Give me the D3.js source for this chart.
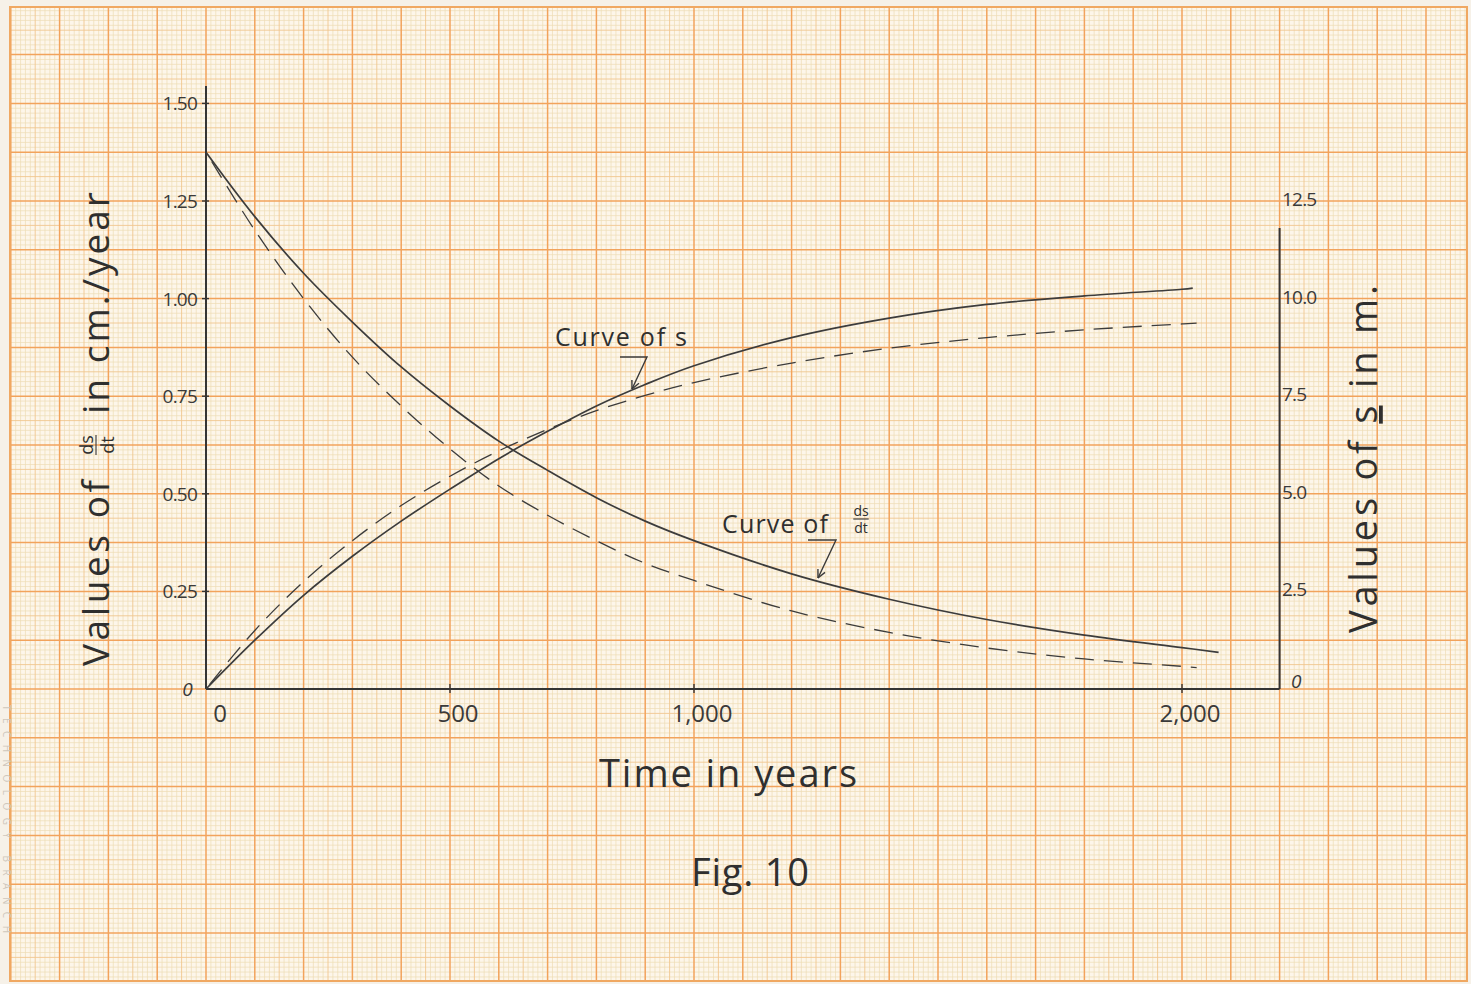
<!DOCTYPE html>
<html><head><meta charset="utf-8">
<script src="https://cdn.jsdelivr.net/npm/d3@7"></script>
<style>
html,body{margin:0;padding:0;background:#f6f1e8;}
svg{display:block;}
text{font-family:"Open Sans","DejaVu Sans",sans-serif;fill:#2f2f2f;}
</style></head>
<body>
<svg id="c" width="1471" height="984"></svg>
<script>
// ---- data ----
const years = [0, 100, 200, 300, 400, 500, 600, 700, 800, 900, 1000, 1200, 1400, 1600, 1800, 2000];
const dsdtSolid  = [1.375, 1.21, 1.065, 0.94, 0.825, 0.725, 0.635, 0.56, 0.49, 0.43, 0.38, 0.295, 0.23, 0.178, 0.138, 0.106];
const dsdtDashed = [1.375, 1.175, 1.00, 0.85, 0.725, 0.615, 0.52, 0.445, 0.38, 0.322, 0.278, 0.20, 0.145, 0.105, 0.077, 0.058];
const sSolid     = [0, 1.25, 2.4, 3.4, 4.3, 5.12, 5.9, 6.6, 7.25, 7.8, 8.28, 9.0, 9.5, 9.85, 10.07, 10.24];
const sDashed    = [0, 1.5, 2.75, 3.8, 4.7, 5.45, 6.1, 6.65, 7.13, 7.52, 7.85, 8.35, 8.73, 9.0, 9.2, 9.35];
const endYearSolidDsdt = 2075, endSolidDsdt = 0.094;
const endYearDashedDsdt = 2030, endDashedDsdt = 0.055;
const endYearSolidS = 2022, endSolidS = 10.27;
const endYearDashedS = 2030, endDashedS = 9.37;

const xTicks = [0, 500, 1000, 2000];
const xTickLabels = ["0", "500", "1,000", "2,000"];
const leftTicks = [0, 0.25, 0.5, 0.75, 1.0, 1.25, 1.5];
const leftTickLabels = ["0", "0.25", "0.50", "0.75", "1.00", "1.25", "1.50"];
const rightTicks = [0, 2.5, 5.0, 7.5, 10.0, 12.5];
const rightTickLabels = ["0", "2.5", "5.0", "7.5", "10.0", "12.5"];

// ---- scales ----
const svg = d3.select("#c");
const x = d3.scaleLinear().domain([0, 2000]).range([206, 1182]);
const yL = d3.scaleLinear().domain([0, 1.5]).range([689, 103.4]);
const yR = d3.scaleLinear().domain([0, 15]).range([689, 103.4]);

// ---- graph paper ----
const paper = {x0: 10, y0: 7, x1: 1467, y1: 981};
svg.append("rect").attr("x", paper.x0).attr("y", paper.y0)
  .attr("width", paper.x1 - paper.x0).attr("height", paper.y1 - paper.y0)
  .attr("fill", "#fdf6ea");
svg.append("clipPath").attr("id", "pc").append("rect")
  .attr("x", paper.x0).attr("y", paper.y0)
  .attr("width", paper.x1 - paper.x0).attr("height", paper.y1 - paper.y0);
const grid = svg.append("g").attr("clip-path", "url(#pc)");
const vLines = d3.range(-400, 2620, 10);
const hLines = d3.range(-60, 141, 1).map(k => k * 0.0125);
function lvl(i) { return i % 10 === 0 ? 2 : (i % 5 === 0 ? 1 : 0); }
const styles = [
  {stroke: "#eedcb4", w: 0.7},
  {stroke: "#f0c690", w: 0.9},
  {stroke: "#f2a35c", w: 1.5}
];
[0, 1, 2].forEach(L => {
  grid.selectAll(null).data(vLines.filter(v => lvl(Math.round(v / 10) + 1000) === L)).join("line")
    .attr("x1", d => x(d)).attr("x2", d => x(d)).attr("y1", paper.y0).attr("y2", paper.y1)
    .attr("stroke", styles[L].stroke).attr("stroke-width", styles[L].w);
  grid.selectAll(null).data(hLines.filter(v => lvl(Math.round(v / 0.0125) + 1000) === L)).join("line")
    .attr("y1", d => yL(d)).attr("y2", d => yL(d)).attr("x1", paper.x0).attr("x2", paper.x1)
    .attr("stroke", styles[L].stroke).attr("stroke-width", styles[L].w);
});
svg.append("rect").attr("x", paper.x0).attr("y", paper.y0)
  .attr("width", paper.x1 - paper.x0).attr("height", paper.y1 - paper.y0)
  .attr("fill", "none").attr("stroke", "#f0a862").attr("stroke-width", 2);

// faint printer text at left margin
svg.append("text").attr("transform", "translate(3,705) rotate(90)")
  .attr("font-size", 10).attr("textLength", 228).attr("lengthAdjust", "spacing")
  .style("fill", "#cfc7bc")
  .text("TECHNOLOGY BRANCH");

// ---- axes ----
const axisColor = "#353535";
const ax = svg.append("g").attr("stroke", axisColor).attr("stroke-width", 2).attr("fill", "none");
ax.append("line").attr("x1", x(0)).attr("x2", x(0)).attr("y1", 86).attr("y2", yL(0));
ax.append("line").attr("x1", x(0)).attr("x2", x(2200)).attr("y1", yL(0)).attr("y2", yL(0));
ax.append("line").attr("x1", x(2200)).attr("x2", x(2200)).attr("y1", 228).attr("y2", yL(0));
ax.selectAll(null).data(xTicks.slice(1)).join("line")
  .attr("x1", d => x(d)).attr("x2", d => x(d)).attr("y1", yL(0) - 5).attr("y2", yL(0) + 4)
  .attr("stroke-width", 1.4);
ax.selectAll(null).data(leftTicks.slice(1)).join("line")
  .attr("x1", x(0) - 4).attr("x2", x(0) + 3).attr("y1", d => yL(d)).attr("y2", d => yL(d))
  .attr("stroke-width", 1.4);

// tick labels
svg.append("g").selectAll("text").data(xTicks).join("text")
  .attr("x", (d, i) => x(d) + (i === 0 ? 14 : 8)).attr("y", yL(0) + 33)
  .attr("text-anchor", "middle").attr("font-size", 24).attr("font-weight", 400)
  .style("fill", "#3a3a3a")
  .text((d, i) => xTickLabels[i]);
svg.append("g").selectAll("text").data(leftTicks).join("text")
  .attr("x", (d, i) => i === 0 ? 192 : 197).attr("y", d => yL(d) + 7)
  .attr("text-anchor", "end").attr("font-size", 19).attr("font-weight", 400)
  .attr("font-style", (d, i) => i === 0 ? "italic" : "normal")
  .attr("letter-spacing", -0.8).style("fill", "#3a3a3a")
  .text((d, i) => leftTickLabels[i]);
svg.append("g").selectAll("text").data(rightTicks).join("text")
  .attr("x", (d, i) => i === 0 ? 1291 : 1282).attr("y", d => yR(d) + (d === 0 ? -1 : 5))
  .attr("text-anchor", "start").attr("font-size", 19).attr("font-weight", 400)
  .attr("font-style", (d, i) => i === 0 ? "italic" : "normal")
  .attr("letter-spacing", -0.8).style("fill", "#3a3a3a")
  .text((d, i) => rightTickLabels[i]);

// ---- curves ----
const lineL = d3.line().x(d => x(d[0])).y(d => yL(d[1])).curve(d3.curveCatmullRom.alpha(0.5));
const lineR = d3.line().x(d => x(d[0])).y(d => yR(d[1])).curve(d3.curveCatmullRom.alpha(0.5));
function pts(vals, ey, ev) { return years.map((t, i) => [t, vals[i]]).concat([[ey, ev]]); }
const curves = svg.append("g").attr("fill", "none").attr("stroke", "#3c3c3c");
curves.append("path").attr("d", lineL(pts(dsdtSolid, endYearSolidDsdt, endSolidDsdt)))
  .attr("stroke-width", 1.7);
curves.append("path").attr("d", lineL(pts(dsdtDashed, endYearDashedDsdt, endDashedDsdt)))
  .attr("stroke-width", 1.3).attr("stroke-dasharray", "19,10").attr("stroke-dashoffset", -40);
curves.append("path").attr("d", lineR(pts(sSolid, endYearSolidS, endSolidS)))
  .attr("stroke-width", 1.7);
curves.append("path").attr("d", lineR(pts(sDashed, endYearDashedS, endDashedS)))
  .attr("stroke-width", 1.3).attr("stroke-dasharray", "19,10").attr("stroke-dashoffset", -6);

// ---- annotations ----
svg.append("text").attr("x", 555).attr("y", 346).attr("font-size", 25).attr("font-weight", 400)
  .attr("textLength", 132).attr("lengthAdjust", "spacing")
  .text("Curve of s");
svg.append("text").attr("x", 722).attr("y", 533).attr("font-size", 25).attr("font-weight", 400)
  .attr("textLength", 106).attr("lengthAdjust", "spacing")
  .text("Curve of");
function frac(g, cx, cy, size, num, den) {
  g.append("text").attr("x", cx).attr("y", cy - 3).attr("text-anchor", "middle")
    .attr("font-size", size).attr("font-weight", 400).text(num);
  g.append("line").attr("x1", cx - size * 0.55).attr("x2", cx + size * 0.55)
    .attr("y1", cy).attr("y2", cy).attr("stroke", "#333").attr("stroke-width", 1.1);
  g.append("text").attr("x", cx).attr("y", cy + size * 1.0).attr("text-anchor", "middle")
    .attr("font-size", size).attr("font-weight", 400).text(den);
}
frac(svg, 861, 519, 14, "ds", "dt");
// arrows
const arrows = svg.append("g").attr("stroke", "#3a3a3a").attr("stroke-width", 1.4).attr("fill", "none");
function arrow(p) {
  arrows.append("path").attr("d", d3.line()(p));
  const [a, b] = [p[p.length - 2], p[p.length - 1]];
  const ang = Math.atan2(b[1] - a[1], b[0] - a[0]);
  const L = 9;
  [0.45, -0.45].forEach(o => {
    arrows.append("line").attr("x1", b[0]).attr("y1", b[1])
      .attr("x2", b[0] - L * Math.cos(ang + o)).attr("y2", b[1] - L * Math.sin(ang + o));
  });
}
arrow([[620, 357], [647, 357], [632, 389]]);
arrow([[808, 540], [836, 540], [818, 578]]);

// ---- axis titles ----
const lt = svg.append("g").attr("transform", "translate(109,666) rotate(-90)");
lt.append("text").attr("x", 0).attr("y", 0).attr("font-size", 37).attr("font-weight", 400)
  .attr("textLength", 186).attr("lengthAdjust", "spacing").text("Values of");
frac(lt, 221, -13, 18, "ds", "dt");
lt.append("text").attr("x", 252).attr("y", 0).attr("font-size", 37).attr("font-weight", 400)
  .attr("textLength", 222).attr("lengthAdjust", "spacing").text("in  cm./year");

const rt = svg.append("g").attr("transform", "translate(1377,633) rotate(-90)");
const rtx = rt.append("text").attr("x", 0).attr("y", 0).attr("font-size", 38).attr("font-weight", 400)
  .attr("textLength", 348).attr("lengthAdjust", "spacing");
rtx.append("tspan").text("Values of ");
rtx.append("tspan").attr("text-decoration", "underline").text("s");
rtx.append("tspan").text(" in m.");

svg.append("text").attr("x", 728).attr("y", 787).attr("text-anchor", "middle")
  .attr("font-size", 38).attr("font-weight", 400).attr("textLength", 258).attr("lengthAdjust", "spacing")
  .text("Time in years");
svg.append("text").attr("x", 750).attr("y", 886).attr("text-anchor", "middle")
  .attr("font-size", 38).attr("font-weight", 400).attr("textLength", 118).attr("lengthAdjust", "spacing")
  .text("Fig. 10");
</script>
</body></html>
